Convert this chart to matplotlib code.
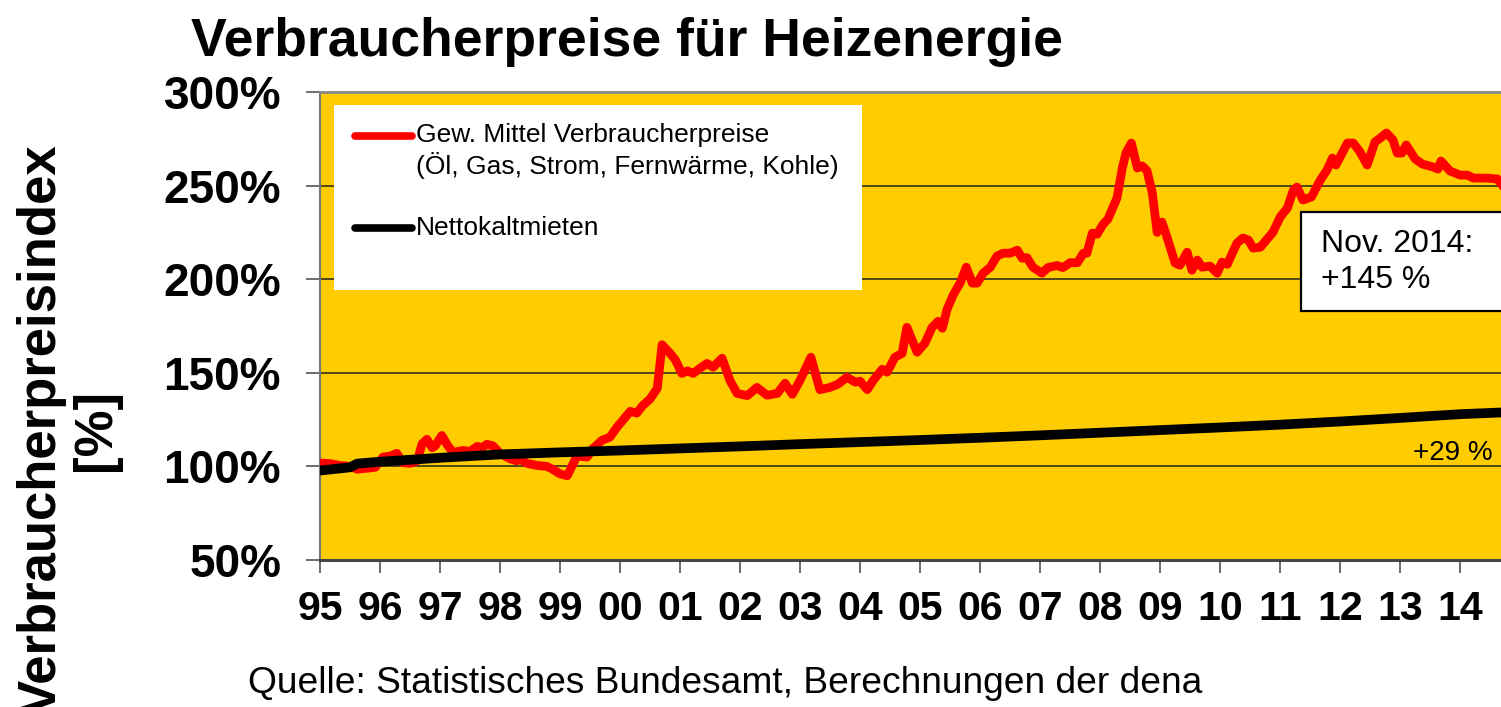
import matplotlib
matplotlib.use("Agg")
import matplotlib.pyplot as plt
from matplotlib.patches import Rectangle

# Gew. Mittel Verbraucherpreise (decimal year, index in %)
heat_years = [
    1995.00, 1995.17, 1995.33, 1995.50, 1995.62, 1995.78, 1995.92, 1996.05,
    1996.17, 1996.28, 1996.38, 1996.50, 1996.62, 1996.70, 1996.78, 1996.87,
    1996.92, 1997.03, 1997.13, 1997.22, 1997.38, 1997.50, 1997.62, 1997.70,
    1997.78, 1997.88, 1998.00, 1998.17, 1998.28, 1998.33, 1998.45, 1998.62,
    1998.78, 1998.88, 1999.00, 1999.12, 1999.28, 1999.45, 1999.55, 1999.70,
    1999.83, 1999.95, 2000.17, 2000.28, 2000.38, 2000.50, 2000.62, 2000.70,
    2000.83, 2000.92, 2001.03, 2001.12, 2001.22, 2001.33, 2001.45, 2001.55,
    2001.70, 2001.83, 2001.95, 2002.12, 2002.28, 2002.45, 2002.62, 2002.75,
    2002.87, 2003.00, 2003.18, 2003.33, 2003.50, 2003.63, 2003.78, 2003.92,
    2004.00, 2004.12, 2004.22, 2004.37, 2004.45, 2004.58, 2004.70, 2004.78,
    2004.95, 2005.08, 2005.20, 2005.30, 2005.37, 2005.45, 2005.55, 2005.67,
    2005.77, 2005.87, 2005.95, 2006.05, 2006.17, 2006.28, 2006.38, 2006.50,
    2006.62, 2006.70, 2006.78, 2006.88, 2007.03, 2007.13, 2007.28, 2007.38,
    2007.50, 2007.62, 2007.72, 2007.78, 2007.87, 2007.95, 2008.05, 2008.13,
    2008.28, 2008.37, 2008.43, 2008.52, 2008.62, 2008.70, 2008.78, 2008.87,
    2008.95, 2009.03, 2009.13, 2009.25, 2009.33, 2009.45, 2009.53, 2009.62,
    2009.70, 2009.83, 2009.95, 2010.03, 2010.12, 2010.28, 2010.38, 2010.47,
    2010.55, 2010.67, 2010.80, 2010.88, 2011.00, 2011.12, 2011.22, 2011.28,
    2011.38, 2011.52, 2011.67, 2011.78, 2011.87, 2011.93, 2012.12, 2012.22,
    2012.33, 2012.45, 2012.58, 2012.67, 2012.77, 2012.88, 2012.95, 2013.03,
    2013.10, 2013.25, 2013.37, 2013.55, 2013.63, 2013.68, 2013.83, 2014.00,
    2014.12, 2014.22, 2014.45, 2014.62, 2014.83,
]
heat_values = [
    101.8, 101.5, 100.5, 100.0, 98.5, 99.0, 99.5, 105.0,
    105.5, 107.0, 102.0, 101.6, 103.0, 112.0, 114.5, 110.0,
    111.0, 116.5, 111.0, 107.5, 108.5, 108.0, 110.7, 110.0,
    111.8, 111.0, 107.0, 104.0, 103.0, 104.0, 101.6, 100.5,
    100.0, 98.4, 96.0, 95.0, 105.5, 105.0, 109.6, 114.0,
    115.6, 121.0, 129.4, 128.5, 132.6, 136.0, 141.7, 165.0,
    160.5, 157.0, 149.7, 151.0, 149.7, 152.4, 155.0, 153.0,
    157.8, 146.0, 139.0, 137.8, 142.2, 138.0, 139.0, 144.4,
    138.5, 146.0, 158.3, 141.0, 142.2, 143.9, 147.6, 145.0,
    145.5, 141.0, 146.0, 151.9, 150.3, 158.3, 160.4, 174.3,
    161.0, 165.8, 174.3, 177.5, 173.8, 184.0, 191.5, 198.2,
    206.4, 197.9, 197.9, 203.2, 206.4, 212.3, 213.9, 213.9,
    215.5, 211.2, 211.5, 206.4, 203.2, 206.2, 207.3, 206.2,
    208.8, 208.8, 213.9, 213.9, 224.6, 224.0, 229.4, 232.1,
    243.3, 259.4, 267.4, 272.7, 259.4, 260.5, 258.0, 246.0,
    225.0, 230.5, 220.9, 208.6, 207.5, 214.4, 204.8, 210.2,
    206.4, 207.0, 203.2, 209.1, 208.0, 219.3, 222.0, 220.9,
    216.6, 217.1, 222.0, 225.1, 233.2, 238.0, 247.6, 249.2,
    242.3, 243.9, 253.0, 258.3, 264.7, 261.0, 272.7, 272.7,
    268.0, 261.0, 273.3, 275.4, 278.1, 274.4, 267.4, 267.4,
    271.7, 264.2, 261.5, 259.9, 258.8, 263.1, 257.8, 255.6,
    255.6, 254.0, 254.0, 253.5, 245.0,
]

# Nettokaltmieten
rent_years = [
    1995.0, 1995.5, 1995.62, 1996.0, 1997.0, 1998.0, 1999.0, 2000.0,
    2001.0, 2002.0, 2003.0, 2004.0, 2005.0, 2006.0, 2007.0, 2008.0,
    2009.0, 2010.0, 2011.0, 2012.0, 2013.0, 2014.0, 2014.83,
]
rent_values = [
    97.8, 99.5, 101.5, 102.5, 104.6, 106.4, 107.5, 108.5,
    109.6, 110.7, 111.9, 113.0, 114.1, 115.3, 116.6, 118.0,
    119.4, 120.8, 122.3, 124.0, 125.9, 127.9, 129.0,
]

year_ticks = list(range(1995, 2015))
year_labels = ["95", "96", "97", "98", "99", "00", "01", "02", "03", "04",
               "05", "06", "07", "08", "09", "10", "11", "12", "13", "14"]
pct_ticks = [50, 100, 150, 200, 250, 300]
pct_labels = ["50%", "100%", "150%", "200%", "250%", "300%"]

heat_label = "Gew. Mittel Verbraucherpreise\n(Öl, Gas, Strom, Fernwärme, Kohle)"
rent_label = "Nettokaltmieten"


def plot_heating_prices():
    """Consumer price index for heating energy vs. net rents."""
    plt.rcParams["font.family"] = ["Liberation Sans", "DejaVu Sans"]

    fig = plt.figure(figsize=(15.01, 7.07), dpi=100)
    ax = fig.add_axes([0.2132, 0.2079, 0.7868, 0.662])
    ax.set_facecolor("#FFCC00")

    ax.plot(heat_years, heat_values, color="#FF0000", lw=6.3,
            solid_joinstyle="round", zorder=3)
    ax.plot(rent_years, rent_values, color="black", lw=7, zorder=4)

    ax.set_xlim(1995, 2014.68)
    ax.set_ylim(50, 300)

    ax.set_xticks(year_ticks)
    ax.set_xticklabels(year_labels, fontsize=29.5, fontweight="bold")
    ax.set_yticks(pct_ticks)
    ax.set_yticklabels(pct_labels, fontsize=33, fontweight="bold")
    ax.tick_params(axis="x", direction="out", length=9.5, width=1.2,
                   color="#555555", pad=12)
    ax.tick_params(axis="y", direction="out", length=10, width=1.2,
                   color="#555555", pad=18)

    ax.grid(axis="y", color="#222222", lw=1.1)
    ax.set_axisbelow(True)

    ax.spines["right"].set_visible(False)
    ax.spines["top"].set_color("#888888")
    ax.spines["top"].set_linewidth(2)
    ax.spines["left"].set_color("#777777")
    ax.spines["left"].set_linewidth(1.5)
    ax.spines["bottom"].set_color("#444444")
    ax.spines["bottom"].set_linewidth(2.2)

    # legend box, drawn by hand to get the Excel look
    ax.add_patch(Rectangle((0.0119, 0.577), 0.447, 0.395, transform=ax.transAxes,
                           facecolor="white", edgecolor="none", zorder=5))
    ax.plot([0.0296, 0.0779], [0.906, 0.906], transform=ax.transAxes,
            color="#FF0000", lw=5.5, solid_capstyle="round", zorder=6)
    ax.plot([0.0296, 0.0779], [0.709, 0.709], transform=ax.transAxes,
            color="black", lw=5.5, solid_capstyle="round", zorder=6)
    ax.text(0.0813, 0.874, heat_label, transform=ax.transAxes, fontsize=19,
            va="center", ha="left", linespacing=1.2, zorder=7)
    ax.text(0.0813, 0.709, rent_label, transform=ax.transAxes, fontsize=19,
            va="center", ha="left", zorder=7)

    # annotation for Nov. 2014
    ax.add_patch(Rectangle((0.8307, 0.532), 0.25, 0.2116, transform=ax.transAxes,
                           facecolor="white", edgecolor="black", lw=1.6,
                           clip_on=False, zorder=5))
    ax.text(0.848, 0.637, "Nov. 2014:\n+145 %", transform=ax.transAxes,
            fontsize=23, va="center", ha="left", linespacing=1.25, zorder=6)
    ax.text(0.993, 0.2286, "+29 %", transform=ax.transAxes, fontsize=20,
            va="center", ha="right", zorder=6)

    fig.text(0.4174, 0.921, "Verbraucherpreise für Heizenergie", fontsize=38.5,
             fontweight="bold", ha="center", va="baseline")
    fig.text(0.046, 0.392, "Verbraucherpreisindex\n[%]", fontsize=38,
             fontweight="bold", rotation=90, ha="center", va="center",
             multialignment="center", linespacing=1.1)
    fig.text(0.1652, 0.02, "Quelle: Statistisches Bundesamt, Berechnungen der dena",
             fontsize=26.7, ha="left", va="baseline")

    fig.savefig("out.png", dpi=100)


def main():
    plot_heating_prices()


if __name__ == "__main__":
    main()
